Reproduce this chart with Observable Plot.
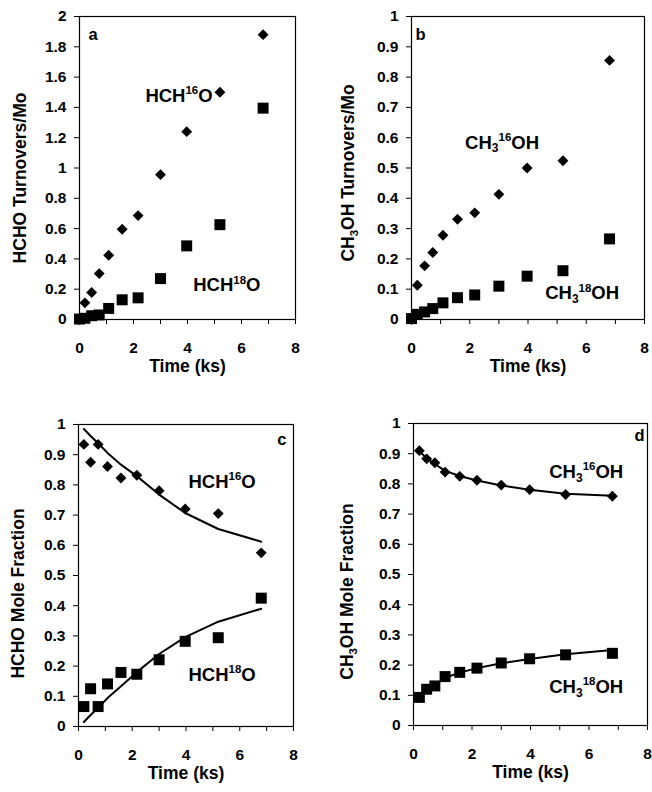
<!DOCTYPE html>
<html>
<head>
<meta charset="utf-8">
<script src="https://cdn.jsdelivr.net/npm/d3@7"></script>
<script src="https://cdn.jsdelivr.net/npm/@observablehq/plot@0.6"></script>
<style>
  html, body { margin: 0; padding: 0; background: white; }
  #chart { position: relative; width: 652px; height: 792px; background: white; }
  #chart svg { position: absolute; overflow: visible; }
</style>
</head>
<body>
<div id="chart"></div>
<script>
// ---- Data ----
const timeTurn = [0, 0.2, 0.45, 0.73, 1.08, 1.58, 2.17, 3.0, 3.97, 5.2, 6.8];   // ks, panels a & b
const timeFrac = [0.2, 0.45, 0.73, 1.08, 1.58, 2.17, 3.0, 3.97, 5.2, 6.8];      // ks, panels c & d

// a: HCHO turnovers / Mo
const hch16Turn = [0, 0.11, 0.178, 0.303, 0.424, 0.596, 0.686, 0.956, 1.24, 1.50, 1.88];
const hch18Turn = [0.003, 0.008, 0.025, 0.03, 0.073, 0.13, 0.143, 0.27, 0.486, 0.626, 1.395];

// b: CH3OH turnovers / Mo
const ch3oh16Turn = [0, 0.113, 0.177, 0.221, 0.278, 0.331, 0.352, 0.413, 0.5, 0.524, 0.855];
const ch3oh18Turn = [0.003, 0.017, 0.025, 0.036, 0.055, 0.072, 0.081, 0.11, 0.143, 0.161, 0.266];

// c: HCHO mole fraction (points and model curves)
const hch16Frac = [0.934, 0.875, 0.934, 0.861, 0.823, 0.832, 0.781, 0.72, 0.705, 0.575];
const hch18Frac = [0.066, 0.125, 0.066, 0.141, 0.179, 0.173, 0.221, 0.282, 0.294, 0.425];
const hch16Fit  = [0.985, 0.962, 0.938, 0.906, 0.867, 0.829, 0.768, 0.707, 0.654, 0.612];
const hch18Fit  = [0.015, 0.038, 0.062, 0.094, 0.133, 0.18, 0.24, 0.296, 0.347, 0.39];

// d: CH3OH mole fraction (points and model curves)
const ch3oh16Frac = [0.910, 0.883, 0.870, 0.839, 0.825, 0.812, 0.796, 0.781, 0.765, 0.759];
const ch3oh18Frac = [0.093, 0.12, 0.131, 0.162, 0.176, 0.19, 0.207, 0.221, 0.234, 0.239];
const ch3oh16Fit  = [0.908, 0.885, 0.866, 0.843, 0.826, 0.811, 0.795, 0.781, 0.767, 0.761];
const ch3oh18Fit  = [0.093, 0.117, 0.133, 0.158, 0.175, 0.19, 0.206, 0.22, 0.236, 0.25];

// ticks and labels
const xTicks = [0, 1, 2, 3, 4, 5, 6, 7, 8];
const yTicks2 = [0, 0.2, 0.4, 0.6, 0.8, 1, 1.2, 1.4, 1.6, 1.8, 2];
const yTicks1 = [0, 0.1, 0.2, 0.3, 0.4, 0.5, 0.6, 0.7, 0.8, 0.9, 1];
const xTitle = "Time (ks)";
const yTitles = ["HCHO Turnovers/Mo", "CH_{3}OH Turnovers/Mo", "HCHO Mole Fraction", "CH_{3}OH Mole Fraction"];
const panelLetters = ["a", "b", "c", "d"];
const seriesLabels = [
  [{x: 2.44, y: 1.475, text: "HCH^{16}O"}, {x: 4.21, y: 0.224, text: "HCH^{18}O"}],
  [{x: 1.84, y: 0.583, text: "CH_{3}^{16}OH"}, {x: 4.59, y: 0.086, text: "CH_{3}^{18}OH"}],
  [{x: 4.09, y: 0.809, text: "HCH^{16}O"}, {x: 4.09, y: 0.171, text: "HCH^{18}O"}],
  [{x: 4.64, y: 0.839, text: "CH_{3}^{16}OH"}, {x: 4.64, y: 0.127, text: "CH_{3}^{18}OH"}]
];

const rows = (ts, vs) => ts.map((t, i) => ({t, v: vs[i]}));

// ---- Layout per panel ----
const panels = [
  {left: 0, top: 0, ml: 79, mr: 31, mt: 16, mb: 77, yDomain: [0, 2], yTicks: yTicks2,
   diamonds: rows(timeTurn, hch16Turn), squares: rows(timeTurn, hch18Turn), lines: [],
   ytDx: -59, ytDy: 10, letterAnchor: "top-left", ldx: 9, ldy: 12},
  {left: 326, top: 0, ml: 85, mr: 8, mt: 16, mb: 77, yDomain: [0, 1], yTicks: yTicks1,
   diamonds: rows(timeTurn, ch3oh16Turn), squares: rows(timeTurn, ch3oh18Turn), lines: [],
   ytDx: -63, ytDy: 5, letterAnchor: "top-left", ldx: 4, ldy: 12},
  {left: 0, top: 396, ml: 78, mr: 33, mt: 28, mb: 66, yDomain: [0, 1], yTicks: yTicks1,
   diamonds: rows(timeFrac, hch16Frac), squares: rows(timeFrac, hch18Frac),
   lines: [rows(timeFrac, hch16Fit), rows(timeFrac, hch18Fit)],
   ytDx: -60, ytDy: 18, letterAnchor: "top-right", ldx: -7, ldy: 9},
  {left: 326, top: 396, ml: 87, mr: 5, mt: 27, mb: 67, yDomain: [0, 1], yTicks: yTicks1,
   diamonds: rows(timeFrac, ch3oh16Frac), squares: rows(timeFrac, ch3oh18Frac),
   lines: [rows(timeFrac, ch3oh16Fit), rows(timeFrac, ch3oh18Fit)],
   ytDx: -66, ytDy: 17, letterAnchor: "top-right", ldx: -3, ldy: 6}
];

const FONT = "'Liberation Sans', Arial, Helvetica, sans-serif";

function richify(root) {
  root.querySelectorAll("text").forEach(t => {
    const s = t.textContent;
    if (!/[_^]\{/.test(s)) return;
    const F = parseFloat(getComputedStyle(t).fontSize);
    t.textContent = "";
    let shift = 0;
    for (const part of s.split(/([_^]\{[^}]*\})/)) {
      if (!part) continue;
      const m = /^([_^])\{([^}]*)\}$/.exec(part);
      const ts = document.createElementNS("http://www.w3.org/2000/svg", "tspan");
      let target = 0, size = null, txt = part;
      if (m) {
        txt = m[2];
        if (m[1] === "^") { target = -0.42 * F; size = 0.62 * F; }
        else { target = 0.2 * F; size = 0.65 * F; }
      }
      ts.setAttribute("dy", (target - shift).toFixed(2));
      shift = target;
      if (size) ts.setAttribute("font-size", size.toFixed(2));
      ts.textContent = txt;
      t.appendChild(ts);
    }
  });
}

const chart = document.getElementById("chart");

panels.forEach((p, k) => {
  const svg = Plot.plot({
    width: 326, height: 396,
    marginLeft: p.ml, marginRight: p.mr, marginTop: p.mt, marginBottom: p.mb,
    style: {fontFamily: FONT, fontWeight: "bold", background: "white", color: "black", overflow: "visible"},
    x: {domain: [0, 8]},
    y: {domain: p.yDomain},
    marks: [
      Plot.frame({stroke: "black", strokeWidth: 1.2}),
      Plot.axisX({ticks: xTicks, tickFormat: d => d % 2 === 0 ? String(d) : "", tickSize: 5, tickPadding: 17,
                  fontSize: 15.5, label: null}),
      Plot.axisY({ticks: p.yTicks, tickFormat: d => String(d), tickSize: 5, tickPadding: 8,
                  fontSize: 15.5, label: null}),
      ...p.lines.map(L => Plot.line(L, {x: "t", y: "v", stroke: "black", strokeWidth: 2})),
      Plot.dot(p.diamonds, {x: "t", y: "v", symbol: "diamond2", r: 4.9, fill: "black", stroke: "none"}),
      Plot.dot(p.squares, {x: "t", y: "v", symbol: "square", r: 6.2, fill: "black", stroke: "none"}),
      Plot.text(seriesLabels[k], {x: "x", y: "y", text: "text", textAnchor: "start", lineAnchor: "middle",
                                   fontSize: 18.5, fontWeight: "bold", fill: "black"}),
      Plot.text([xTitle], {frameAnchor: "bottom", dy: 47, textAnchor: "middle", lineAnchor: "middle",
                           fontSize: 17.5, fontWeight: "bold", fill: "black"}),
      Plot.text([yTitles[k]], {frameAnchor: "left", dx: p.ytDx, dy: p.ytDy, rotate: -90,
                               textAnchor: "middle", lineAnchor: "middle",
                               fontSize: 17.5, fontWeight: "bold", fill: "black"}),
      Plot.text([panelLetters[k]], {frameAnchor: p.letterAnchor, dx: p.ldx, dy: p.ldy,
                                    textAnchor: p.letterAnchor === "top-left" ? "start" : "end",
                                    lineAnchor: "top", fontSize: 16.5, fontWeight: "bold", fill: "black"})
    ]
  });
  svg.style.left = p.left + "px";
  svg.style.top = p.top + "px";
  chart.appendChild(svg);
  richify(svg);
});
</script>
</body>
</html>
